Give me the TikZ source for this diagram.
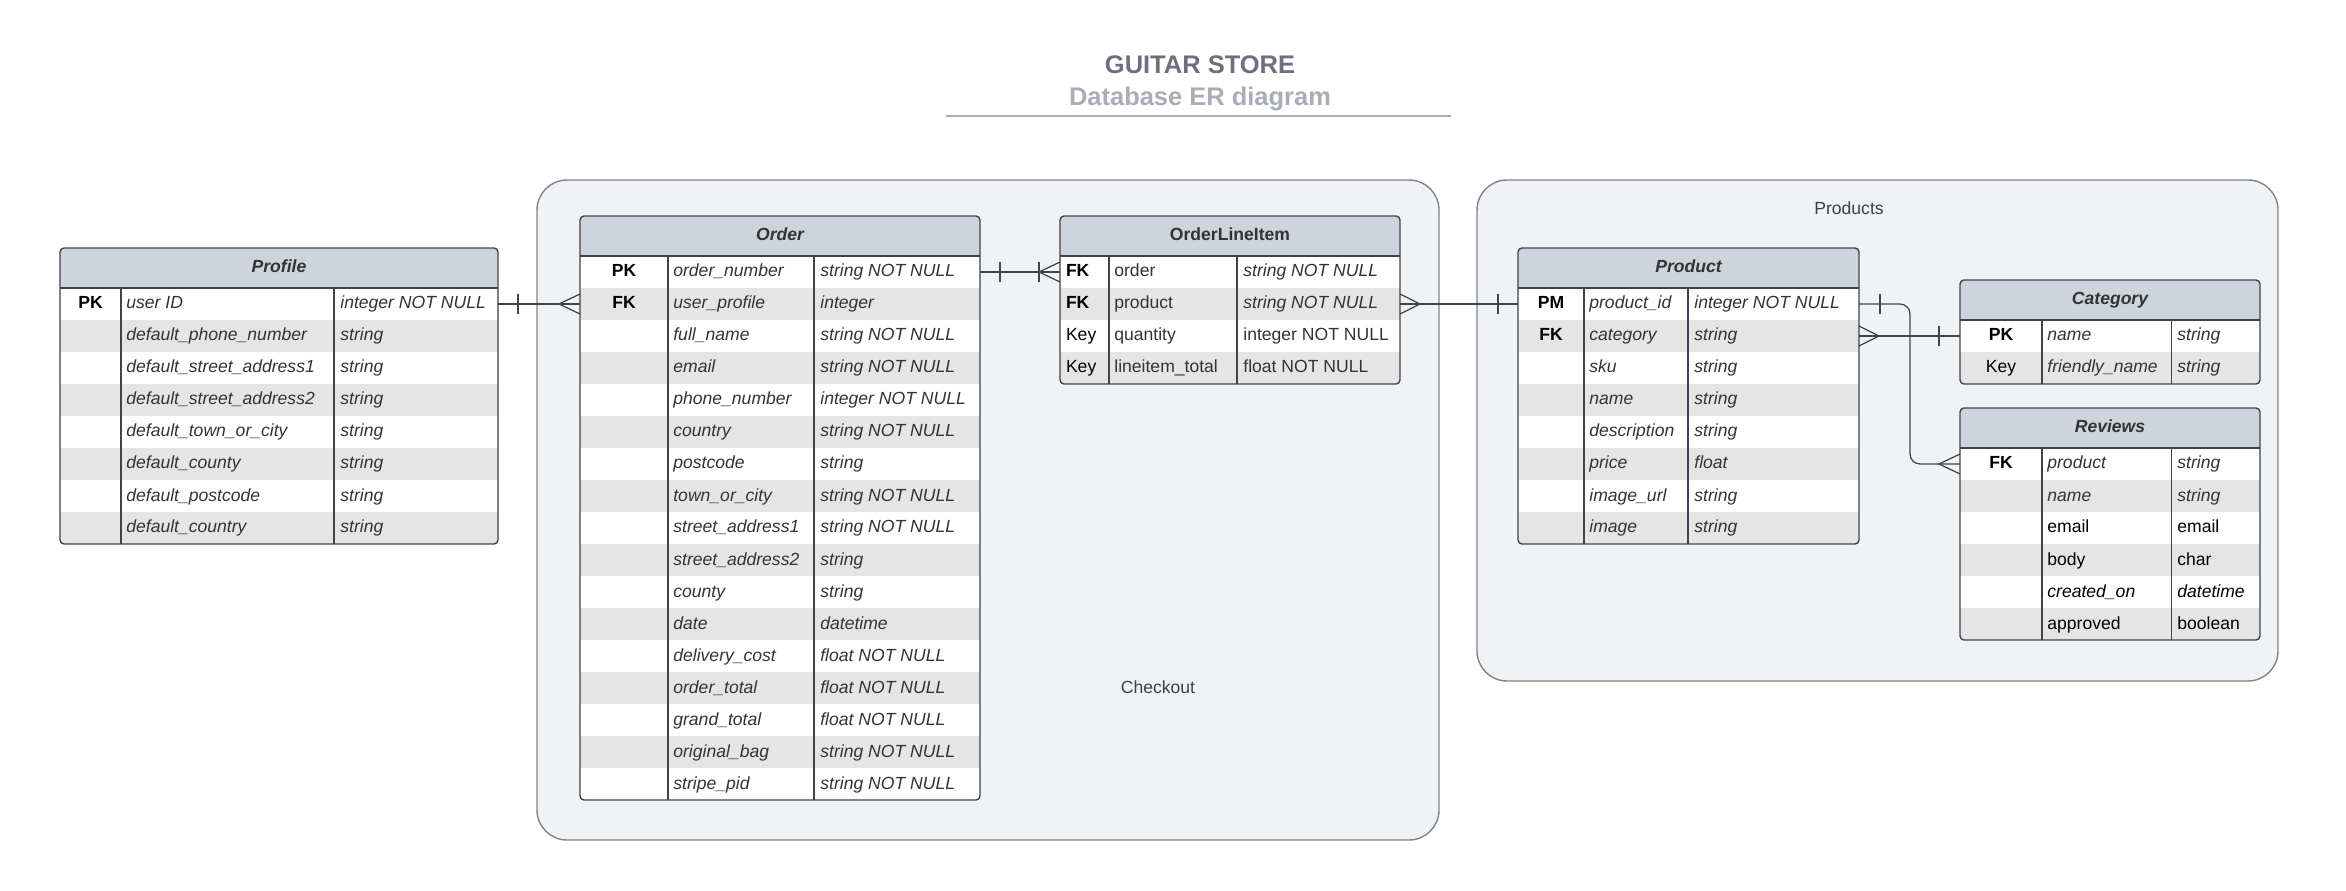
\documentclass[tikz,border=0pt]{standalone}
\usepackage{fontspec}
\setmainfont{Liberation Sans}
\usetikzlibrary{calc}

\definecolor{hdrfill}{HTML}{CED4DB}
\definecolor{rowgrey}{HTML}{E5E5E5}
\definecolor{grpfill}{HTML}{F1F2F4}
\definecolor{grpline}{HTML}{7F848C}
\definecolor{tabline}{HTML}{3E444D}
\definecolor{relline}{HTML}{3E444D}
\definecolor{celltext}{HTML}{333333}
\definecolor{lbltext}{HTML}{3A414A}
\definecolor{ttlA}{HTML}{6B717C}
\definecolor{ttlB}{HTML}{A8AEB7}

\tikzset{
	grp/.style={draw=grpline, fill=grpfill, line width=0.8pt, rounded corners=0.6cm},
	grplbl/.style={text=lbltext, anchor=base},
	hdr/.style={fill=hdrfill, minimum height=0.8cm, inner sep=0pt, outer sep=0pt},
	hdrtxt/.style={text=celltext, font=\fontsize{10}{12}\selectfont\bfseries, anchor=base},
	rowbox/.style={minimum height=0.64cm, inner sep=0pt, outer sep=0pt},
	keycell/.style={text=black, font=\fontsize{10}{12}\selectfont\bfseries, inner sep=0pt, align=center, anchor=base},
	cell/.style={text=celltext, font=\fontsize{10}{12}\selectfont\itshape, inner sep=0pt, anchor=base west},
	tline/.style={draw=tabline, line width=0.8pt},
	rel/.style={draw=relline, line width=0.7pt},
	ttl/.style={font=\fontsize{14.5}{17}\selectfont\bfseries, anchor=base},
}

\def\pxu{0.02cm}
% [name](left,col1,col2,right)(top:rows){title}{key/name/type,...}
\def\ertable[#1](#2,#3,#4,#5)(#6:#7)#8#9{
	\begin{scope}
		\pgfmathsetlengthmacro\tabw{(#5-#2)*\pxu}
		\pgfmathsetlengthmacro\keyw{(#3-#2-12)*\pxu}
		\clip[rounded corners=2.3pt] (#2,#6) rectangle (#5,{#6+40+32*#7});
		\node[hdr, minimum width=\tabw, anchor=north west] (#1-h) at (#2,#6) {};
		\foreach \ky/\nm/\ty [count=\i] in {#9} {
			\ifodd\i\relax \def\rowc{white}\else \def\rowc{rowgrey}\fi
			\pgfmathsetmacro\rowy{#6+24+32*\i}
			\node[rowbox, fill=\rowc, minimum width=\tabw, anchor=north west] (#1-r\i) at (#2,{#6+8+32*\i}) {};
			\node[keycell, text width=\keyw] (#1-k\i) at ({(#2+#3)/2},\rowy+5) {\ky};
			\node[cell] (#1-n\i) at (#3+5,\rowy+5) {\nm};
			\node[cell] (#1-y\i) at (#4+6,\rowy+5) {\ty};
		}
	\end{scope}
	\node[hdrtxt] (#1-t) at ({(#2+#5)/2},#6+25) {#8};
	\draw[tline] (#2,#6+40) -- (#5,#6+40);
	\draw[tline, line width=0.6pt] (#3,#6+40) -- (#3,{#6+40+32*#7});
	\draw[tline, line width=0.6pt] (#4,#6+40) -- (#4,{#6+40+32*#7});
	\draw[tline, rounded corners=2.3pt] (#2,#6) rectangle (#5,{#6+40+32*#7});
}
\def\onebar(#1)(#2){\draw[rel] ($(#1)+(#2,-10)$) -- ($(#1)+(#2,10)$);}
\def\crowfoot(#1)(#2){\draw[rel] ($(#1)+(0,-10)$) -- ($(#1)+(#2,0)$) -- ($(#1)+(0,10)$);}

\begin{document}
\begin{tikzpicture}[x=0.02cm, y=-0.02cm, font=\fontsize{10}{12}\selectfont]
		%%%%% START %%%%%
		
		\fill[white] (0,0) rectangle (2346,891);
		\useasboundingbox (0,0) rectangle (2346,891);
		
		\node[ttl, text=ttlA] (ttl-a) at (1200,74) {GUITAR STORE};
		\node[ttl, text=ttlB] (ttl-b) at (1200,106) {Database ER diagram};
		\draw[ttlB, line width=1.1pt] (946,116) -- (1451,116);
		
		\draw[grp] (537,180) rectangle (1439,840);
		\node[grplbl] (chk-l) at (1158,693) {Checkout};
		\draw[grp] (1477,180) rectangle (2278,681);
		\node[grplbl] (prd-l) at (1849,215) {Products};
		
		\ertable[prof](60,121,334,498)(248:8){\itshape Profile}{
			PK/user ID/integer NOT NULL,
			/default\_phone\_number/string,
			/default\_street\_address1/string,
			/default\_street\_address2/string,
			/default\_town\_or\_city/string,
			/default\_county/string,
			/default\_postcode/string,
			/default\_country/string}
		
		\ertable[ord](580,668,814,980)(216:17){\itshape Order}{
			PK/order\_number/string NOT NULL,
			FK/user\_profile/integer,
			/full\_name/string NOT NULL,
			/email/string NOT NULL,
			/phone\_number/integer NOT NULL,
			/country/string NOT NULL,
			/postcode/string,
			/town\_or\_city/string NOT NULL,
			/street\_address1/string NOT NULL,
			/street\_address2/string,
			/county/string,
			/date/datetime,
			/delivery\_cost/float NOT NULL,
			/order\_total/float NOT NULL,
			/grand\_total/float NOT NULL,
			/original\_bag/string NOT NULL,
			/stripe\_pid/string NOT NULL}
		
		\begin{scope}[keycell/.append style={align=left}]
		\ertable[oli](1060,1109,1237,1400)(216:4){OrderLineItem}{
			FK/\upshape order/string NOT NULL,
			FK/\upshape product/string NOT NULL,
			\mdseries Key/\upshape quantity/\upshape integer NOT NULL,
			\mdseries Key/\upshape lineitem\_total/\upshape float NOT NULL}
		\end{scope}
		
		\ertable[prod](1518,1584,1688,1859)(248:8){\itshape Product}{
			PM/product\_id/integer NOT NULL,
			FK/category/string,
			/sku/string,
			/name/string,
			/description/string,
			/price/float,
			/image\_url/string,
			/image/string}
		
		\ertable[cat](1960,2042,2171,2260)(280:2){\itshape Category}{
			PK/name/string,
			\mdseries Key/friendly\_name/string}
		
		\ertable[rev](1960,2042,2171,2260)(408:6){\itshape Reviews}{
			FK/product/string,
			/name/string,
			/\upshape\color{black}email/\upshape\color{black}email,
			/\upshape\color{black}body/\upshape\color{black}char,
			/\color{black}created\_on/\color{black}datetime,
			/\upshape\color{black}approved/\upshape\color{black}boolean}
		
		% relations
		\draw[rel] (prof-r1.east) -- (ord-r2.west);
		\onebar(prof-r1.east)(20)
		\crowfoot(ord-r2.west)(-21)
		
		\draw[rel] (ord-r1.east) -- (oli-r1.west);
		\onebar(ord-r1.east)(20)
		\onebar(oli-r1.west)(-21)
		\crowfoot(oli-r1.west)(-21)
		
		\draw[rel] (oli-r2.east) -- (prod-r1.west);
		\crowfoot(oli-r2.east)(20)
		\onebar(prod-r1.west)(-20)
		
		\draw[rel] (prod-r2.east) -- (cat-r1.west);
		\crowfoot(prod-r2.east)(20)
		\onebar(cat-r1.west)(-21)
		
		\draw[rel, rounded corners=0.2cm] (prod-r1.east) -- ++(51,0) |- (rev-r1.west);
		\onebar(prod-r1.east)(21)
		\crowfoot(rev-r1.west)(-21)
		
		%%%%% END %%%%%
\end{tikzpicture}
\end{document}
